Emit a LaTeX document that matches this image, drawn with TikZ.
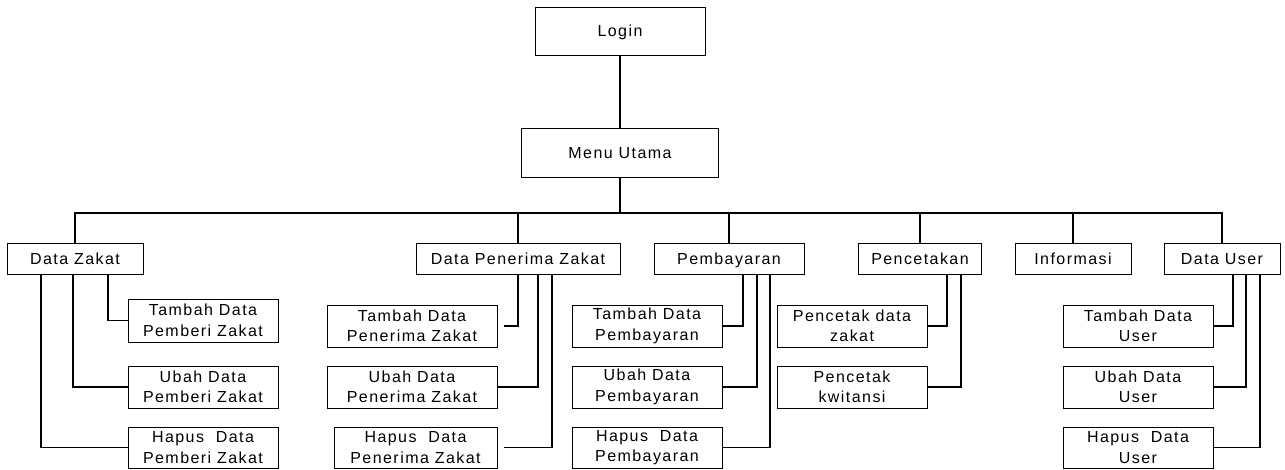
\documentclass[tikz,border=0pt]{standalone}
\usepackage{fontspec}
\setmainfont{Liberation Sans}[LetterSpace=9]
\tikzset{
  menubox/.style={draw,line width=.9pt,inner sep=0pt,align=center,
    font=\fontsize{16}{20.5}\selectfont},
  onerow/.style={menubox,text height=11.5pt,text depth=0pt},
  link/.style={line width=1.3pt}
}
\begin{document}
\begin{tikzpicture}[x=1pt,y=-1pt]
  \useasboundingbox (0,0) rectangle (1285,470);
  \node[onerow,minimum width=170,minimum height=48] (login) at (620,31) {Login};
  \node[onerow,minimum width=197,minimum height=49] (menu) at (620,152.5) {Menu Utama};
  \coordinate (bus) at (620,213);
  % level two
  \foreach \n/\x/\w/\t in {dz/75/136/Data Zakat,dpz/518/204/Data Penerima Zakat,
      pb/729/150/Pembayaran,pc/920/123/Pencetakan,inf/1073/116/Informasi,du/1222/116/Data User}
    \node[onerow,minimum width=\w,minimum height=31] (\n) at (\x,258.5) {\t};
  % level three
  \node[menubox,minimum width=150,minimum height=43] (dzt) at (203,320.5) {Tambah Data\\Pemberi Zakat};
  \node[menubox,minimum width=150,minimum height=42] (dzu) at (203,387) {Ubah Data\\Pemberi Zakat};
  \node[menubox,minimum width=150,minimum height=41] (dzh) at (203,447.5) {Hapus~ Data\\Pemberi Zakat};
  \node[menubox,minimum width=170,minimum height=42] (dpzt) at (412,326) {Tambah Data\\Penerima Zakat};
  \node[menubox,minimum width=170,minimum height=42] (dpzu) at (412,387) {Ubah Data\\Penerima Zakat};
  \node[menubox,minimum width=163,minimum height=41] (dpzh) at (415.5,447.5) {Hapus~ Data\\Penerima Zakat};
  \node[menubox,minimum width=150,minimum height=42] (pbt) at (647,326) {Tambah Data\\Pembayaran};
  \node[menubox,minimum width=150,minimum height=42] (pbu) at (647,387) {Ubah Data\\Pembayaran};
  \node[menubox,minimum width=150,minimum height=41] (pbh) at (647,447.5) {Hapus~ Data\\Pembayaran};
  \node[menubox,minimum width=150,minimum height=42] (pcd) at (852,326) {Pencetak data\\zakat};
  \node[menubox,minimum width=150,minimum height=42] (pck) at (852,387) {Pencetak\\kwitansi};
  \node[menubox,minimum width=150,minimum height=42] (dut) at (1138,326) {Tambah Data\\User};
  \node[menubox,minimum width=150,minimum height=42] (duu) at (1138,387) {Ubah Data\\User};
  \node[menubox,minimum width=150,minimum height=41] (duh) at (1138,447.5) {Hapus~ Data\\User};
  % connectors
  \draw[link] (login) -- (menu) (menu) -- (bus);
  \foreach \n in {dz,dpz,pb,pc,inf,du} \draw[link] (\n.north) |- (bus);
  \draw[link] ([xshift=33]dz.south) |- (dzt.west);
  \draw[link] ([xshift=-2]dz.south) |- (dzu.west);
  \draw[link] ([xshift=-34]dz.south) |- (dzh.west);
  \draw[link] (dpz.south) |- ([xshift=7]dpzt.east);
  \draw[link] ([xshift=20]dpz.south) |- (dpzu.east);
  \draw[link] ([xshift=34]dpz.south) |- ([xshift=7]dpzh.east);
  \draw[link] ([xshift=14]pb.south) |- (pbt.east);
  \draw[link] ([xshift=28]pb.south) |- (pbu.east);
  \draw[link] ([xshift=41]pb.south) |- (pbh.east);
  \draw[link] ([xshift=27]pc.south) |- (pcd.east);
  \draw[link] ([xshift=41]pc.south) |- (pck.east);
  \draw[link] ([xshift=11]du.south) |- (dut.east);
  \draw[link] ([xshift=24]du.south) |- (duu.east);
  \draw[link] ([xshift=38]du.south) |- (duh.east);
\end{tikzpicture}
\end{document}
